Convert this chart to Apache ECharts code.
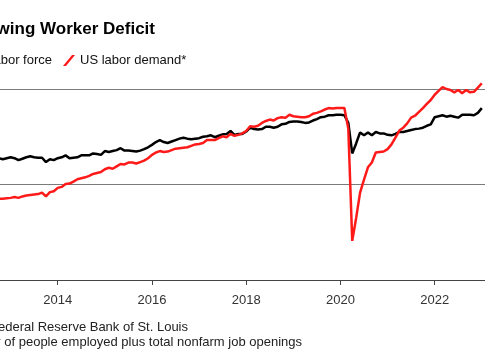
<!DOCTYPE html>
<html><head><meta charset="utf-8">
<script src="https://cdn.jsdelivr.net/npm/echarts@6/dist/echarts.min.js"></script>
<style>html,body{margin:0;padding:0;background:#fff}#c{width:485px;height:360px}</style>
</head><body><div id="c"></div>
<script>
const titleText = 'A Growing Worker Deficit';
const seriesNames = ['US labor force', 'US labor demand*'];
const sourceText = 'Source: Federal Reserve Bank of St. Louis';
const noteText = '*Number of people employed plus total nonfarm job openings';

const months = [
"2012-07","2012-08","2012-09","2012-10","2012-11","2012-12",
"2013-01","2013-02","2013-03","2013-04","2013-05","2013-06","2013-07","2013-08","2013-09","2013-10","2013-11","2013-12",
"2014-01","2014-02","2014-03","2014-04","2014-05","2014-06","2014-07","2014-08","2014-09","2014-10","2014-11","2014-12",
"2015-01","2015-02","2015-03","2015-04","2015-05","2015-06","2015-07","2015-08","2015-09","2015-10","2015-11","2015-12",
"2016-01","2016-02","2016-03","2016-04","2016-05","2016-06","2016-07","2016-08","2016-09","2016-10","2016-11","2016-12",
"2017-01","2017-02","2017-03","2017-04","2017-05","2017-06","2017-07","2017-08","2017-09","2017-10","2017-11","2017-12",
"2018-01","2018-02","2018-03","2018-04","2018-05","2018-06","2018-07","2018-08","2018-09","2018-10","2018-11","2018-12",
"2019-01","2019-02","2019-03","2019-04","2019-05","2019-06","2019-07","2019-08","2019-09","2019-10","2019-11","2019-12",
"2020-01","2020-02","2020-03","2020-04","2020-05","2020-06","2020-07","2020-08","2020-09","2020-10","2020-11","2020-12",
"2021-01","2021-02","2021-03","2021-04","2021-05","2021-06","2021-07","2021-08","2021-09","2021-10","2021-11","2021-12",
"2022-01","2022-02","2022-03","2022-04","2022-05","2022-06","2022-07","2022-08","2022-09","2022-10","2022-11","2022-12",
"2023-01"];

// millions
const laborForce = [
155.0,154.7,155.0,155.5,155.3,155.5,
155.7,155.5,155.1,155.4,155.7,155.9,155.7,155.6,155.6,154.7,155.3,155.1,
155.5,155.7,156.1,155.5,155.6,155.7,156.1,156.1,156.1,156.5,156.4,156.2,
157.0,156.8,157.0,157.2,157.6,157.1,157.1,157.0,156.9,157.1,157.4,157.8,
158.3,158.9,159.3,158.9,158.7,159.0,159.3,159.6,159.8,159.6,159.5,159.6,
159.7,160.0,160.1,160.3,159.9,160.2,160.5,160.6,161.2,160.4,160.6,160.6,
161.1,161.9,161.6,161.5,161.6,162.1,162.1,161.9,162.1,162.6,162.7,163.1,
163.2,163.2,163.1,162.9,163.0,163.4,163.7,164.1,164.2,164.5,164.5,164.6,
164.6,164.5,162.9,156.5,158.6,160.9,160.3,160.9,160.3,161.0,160.7,160.7,
160.4,160.3,160.6,161.0,161.0,161.2,161.4,161.6,161.7,161.9,162.3,162.6,
164.1,164.3,164.5,164.2,164.4,164.2,164.0,164.6,164.6,164.6,164.5,165.0,
166.0];

const laborDemand = [
146.0,145.8,146.6,147.0,147.0,147.1,
147.2,147.4,147.2,147.5,147.7,147.8,147.9,148.0,148.3,147.5,148.4,148.6,
149.3,149.5,150.1,150.2,150.6,151.1,151.3,151.5,151.8,152.2,152.4,152.6,
153.2,153.5,153.3,153.8,154.3,154.2,154.6,154.6,154.4,154.7,155.0,155.5,
156.2,156.7,157.0,156.8,156.9,157.2,157.5,157.6,157.7,157.8,158.1,158.4,
158.5,158.7,159.3,159.3,159.3,159.7,160.1,159.9,160.6,160.2,160.4,160.7,
161.2,162.2,162.1,162.3,162.9,163.3,163.6,163.4,163.9,164.1,164.0,164.6,
164.3,164.2,164.1,164.1,164.3,164.8,165.0,165.3,165.7,166.0,165.9,166.0,
166.0,166.0,161.7,138.2,143.0,148.3,151.0,153.6,154.6,156.7,156.8,156.9,
157.4,158.4,159.8,161.3,161.9,162.8,164.0,164.4,165.2,166.0,166.9,167.7,
168.8,169.6,170.4,170.0,169.8,169.3,169.8,169.1,169.8,169.3,169.4,170.3,
171.2];

const xTickYears = [2012, 2014, 2016, 2018, 2020, 2022];
const yTicks = [130, 150, 170, 190];

function toYear(s) { const p = s.split('-').map(Number); return p[0] + (p[1] - 1) / 12; }

const font = '"Liberation Sans", Arial, sans-serif';
const mctx = document.createElement('canvas').getContext('2d');
mctx.font = '13px ' + font;
const w1 = mctx.measureText(seriesNames[0]).width;
const legendLeft = 52 - w1 - 5 - 12;

const chart = echarts.init(document.getElementById('c'), null, { renderer: 'canvas' });
chart.setOption({
  animation: false,
  backgroundColor: '#ffffff',
  textStyle: { fontFamily: font },
  grid: { left: -36.5, right: -10, top: -6.5, bottom: 80, outerBoundsMode: 'none' },
  legend: {
    left: legendLeft, top: 54, width: 700, orient: 'horizontal',
    itemWidth: 12, itemHeight: 11, itemGap: 11, padding: 0,
    textStyle: { fontFamily: font, fontSize: 13, color: '#111' },
    data: [
      { name: seriesNames[0], icon: 'path://M0,11 L9,0 L12,0 L3,11 Z', itemStyle: { color: '#000' } },
      { name: seriesNames[1], icon: 'path://M0,11 L9,0 L12,0 L3,11 Z', itemStyle: { color: '#ff1a1a' } }
    ]
  },
  xAxis: {
    type: 'value',
    min: xTickYears[0], max: 2023.28, interval: 2,
    axisLine: { show: true, onZero: false, lineStyle: { color: '#444', width: 1 } },
    axisTick: { show: true, length: 5, lineStyle: { color: '#444' } },
    axisLabel: { show: true, margin: 14, fontSize: 13, color: '#333', fontFamily: font, showMaxLabel: false,
      formatter: v => xTickYears.indexOf(v) >= 0 ? String(v) : '' },
    splitLine: { show: false }
  },
  yAxis: {
    type: 'value',
    min: yTicks[0], max: yTicks[yTicks.length - 1], interval: 20,
    axisLine: { show: false }, axisTick: { show: false },
    axisLabel: { show: false },
    splitLine: { show: true, lineStyle: { color: '#7a7a7a', width: 1 } }
  },
  graphic: [
    { type: 'text', x: 155, y: 29, style: { text: titleText, textAlign: 'right', textVerticalAlign: 'middle',
      font: 'bold 17px ' + font, fill: '#000' } },
    { type: 'text', x: 188, y: 327, style: { text: sourceText, textAlign: 'right', textVerticalAlign: 'middle',
      font: '13px ' + font, fill: '#222' } },
    { type: 'text', x: 302, y: 342, style: { text: noteText, textAlign: 'right', textVerticalAlign: 'middle',
      font: '13px ' + font, fill: '#222' } }
  ],
  series: [
    { name: seriesNames[0], type: 'line', showSymbol: false, symbol: 'none',
      lineStyle: { color: '#000', width: 2.5 }, itemStyle: { color: '#000' },
      data: months.map((m, i) => [toYear(m), laborForce[i]]) },
    { name: seriesNames[1], type: 'line', showSymbol: false, symbol: 'none',
      lineStyle: { color: '#ff1a1a', width: 2.5 }, itemStyle: { color: '#ff1a1a' },
      data: months.map((m, i) => [toYear(m), laborDemand[i]]) }
  ]
});
</script></body></html>
